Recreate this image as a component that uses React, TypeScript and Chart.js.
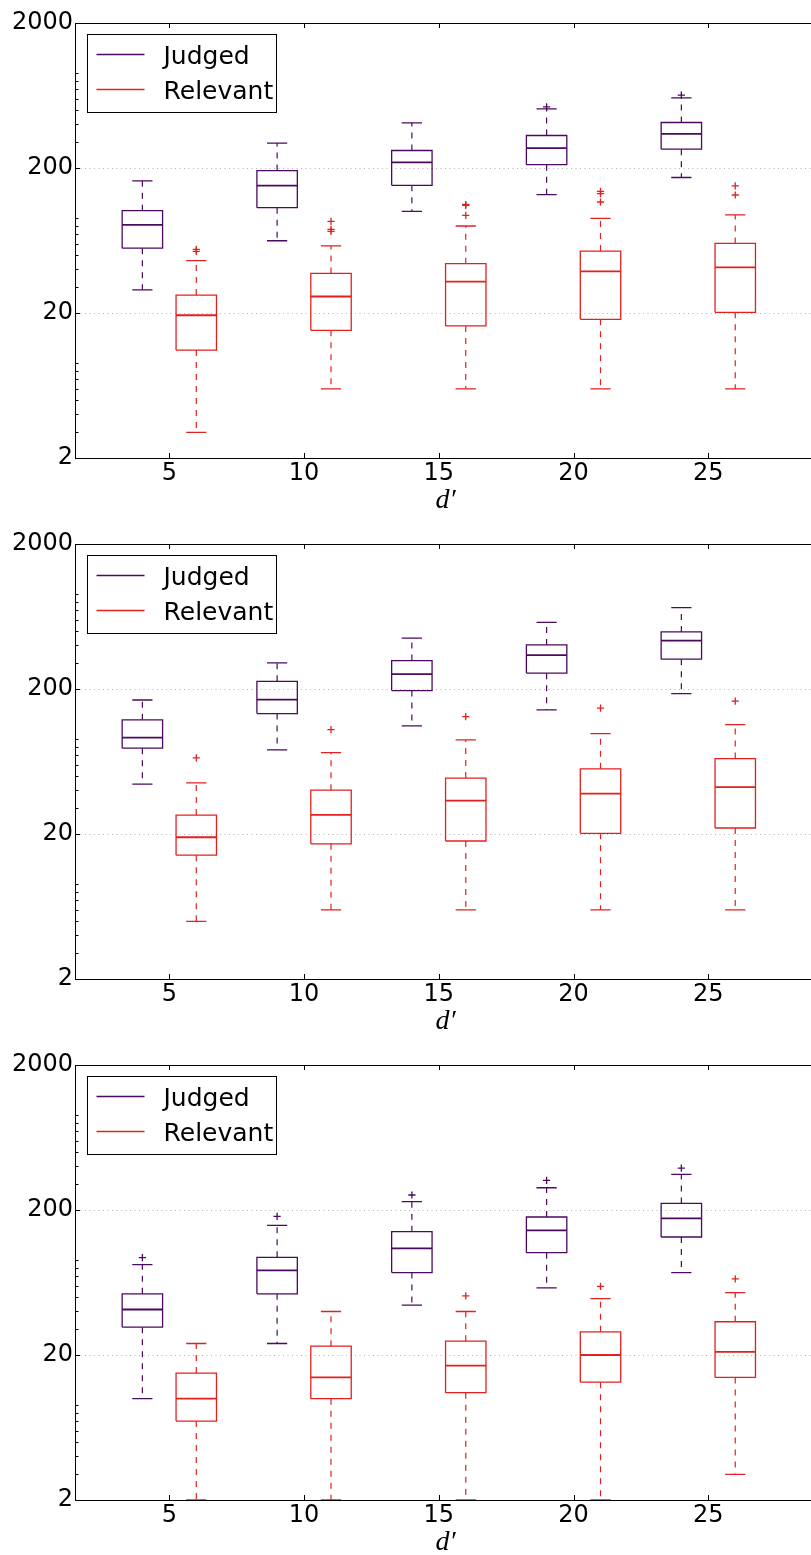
import React, { useEffect, useRef } from "react";
import { Chart, registerables } from "chart.js";

Chart.register(...registerables);

// ---- data -------------------------------------------------------------
const CATEGORIES = [5, 10, 15, 20, 25];
const SERIES_NAMES = ["Judged", "Relevant"];
const X_TICKS = [5, 10, 15, 20, 25];
const Y_TICKS = [2, 20, 200, 2000];
const Y_TICK_LABELS = ["2", "20", "200", "2000"];
const Y_MINOR_TICKS = [3, 4, 5, 6, 7, 8, 9, 30, 40, 50, 60, 70, 80, 90, 300, 400, 500, 600, 700, 800, 900];
const X_TITLE = "d\u2032";

// top panel
const P1_JUDGED_LO = [28.9, 63, 100.5, 131, 172];
const P1_JUDGED_Q1 = [56, 106.5, 152, 211, 269.5];
const P1_JUDGED_MED = [81, 151, 219, 274, 344];
const P1_JUDGED_Q3 = [101.5, 192, 264, 335, 412];
const P1_JUDGED_HI = [163, 297, 410, 512, 610];
const P1_JUDGED_OUT = [[], [], [], [528], [636]];
const P1_RELEVANT_LO = [3, 6, 6, 6, 6];
const P1_RELEVANT_Q1 = [11.1, 15.2, 16.3, 18.1, 20.2];
const P1_RELEVANT_MED = [19.3, 26, 32.9, 38.7, 41.3];
const P1_RELEVANT_Q3 = [26.6, 37.5, 43.8, 53.5, 60.4];
const P1_RELEVANT_HI = [46, 58, 79.6, 90, 95];
const P1_RELEVANT_OUT = [[53.2, 54.9], [73.1, 75.5, 85.8], [94.3, 110.6, 112], [116.6, 133.2, 138.2], [130.3, 150.4]];

// middle panel
const P2_JUDGED_LO = [44.2, 76, 111.4, 143.5, 186];
const P2_JUDGED_Q1 = [78.2, 135.3, 195, 257, 321];
const P2_JUDGED_MED = [92.5, 169, 253, 342, 431];
const P2_JUDGED_Q3 = [122.5, 226, 314, 403, 495];
const P2_JUDGED_HI = [168, 303, 448, 577, 728];
const P2_JUDGED_OUT = [[], [], [], [], []];
const P2_RELEVANT_LO = [5, 6, 6, 6, 6];
const P2_RELEVANT_Q1 = [14.3, 17.1, 17.9, 20.2, 22];
const P2_RELEVANT_MED = [19, 27.1, 34, 38, 42.1];
const P2_RELEVANT_Q3 = [27, 40.1, 48.6, 56.3, 66.3];
const P2_RELEVANT_HI = [45.1, 72.9, 89.2, 98.5, 113.7];
const P2_RELEVANT_OUT = [[67], [105], [129], [147.5], [164.8]];

// bottom panel
const P3_JUDGED_LO = [10, 24, 44.1, 58.1, 74];
const P3_JUDGED_Q1 = [31.1, 52.8, 74, 101.6, 130.3];
const P3_JUDGED_MED = [41.2, 76.7, 108.8, 144.7, 175];
const P3_JUDGED_Q3 = [52.8, 94.3, 141.8, 178.9, 222];
const P3_JUDGED_HI = [84, 156.7, 228.2, 284.8, 351.8];
const P3_JUDGED_OUT = [[93.9], [180.7], [253.8], [319.8], [389.4]];
const P3_RELEVANT_LO = [2, 2, 2, 2, 3];
const P3_RELEVANT_Q1 = [7, 10, 11, 13, 14];
const P3_RELEVANT_MED = [10, 14, 16.9, 20, 21];
const P3_RELEVANT_Q3 = [15, 23, 24.9, 28.9, 33.9];
const P3_RELEVANT_HI = [24, 39.9, 39.9, 49, 53.9];
const P3_RELEVANT_OUT = [[], [], [51.1], [59.5], [67]];

// ---- styling ----------------------------------------------------------
const COLORS = ["#4b0a5e", "#e2211f"];
const SERIES_SHIFT = [-1, 1]; // x shift of each series from its category
const BOX_HALF = 0.75; // half box width, x units
const CAP_HALF = 0.375; // half whisker-cap width, x units
const GRID_COLOR = "#b4b4b4";
const FONT = "DejaVu Sans";
const CANVAS_W = 821;
const CANVAS_H = 521;

type Stats = { lo: number[]; q1: number[]; med: number[]; q3: number[]; hi: number[]; out: number[][] };

const PANELS: Stats[][] = [
  [
    { lo: P1_JUDGED_LO, q1: P1_JUDGED_Q1, med: P1_JUDGED_MED, q3: P1_JUDGED_Q3, hi: P1_JUDGED_HI, out: P1_JUDGED_OUT },
    { lo: P1_RELEVANT_LO, q1: P1_RELEVANT_Q1, med: P1_RELEVANT_MED, q3: P1_RELEVANT_Q3, hi: P1_RELEVANT_HI, out: P1_RELEVANT_OUT },
  ],
  [
    { lo: P2_JUDGED_LO, q1: P2_JUDGED_Q1, med: P2_JUDGED_MED, q3: P2_JUDGED_Q3, hi: P2_JUDGED_HI, out: P2_JUDGED_OUT },
    { lo: P2_RELEVANT_LO, q1: P2_RELEVANT_Q1, med: P2_RELEVANT_MED, q3: P2_RELEVANT_Q3, hi: P2_RELEVANT_HI, out: P2_RELEVANT_OUT },
  ],
  [
    { lo: P3_JUDGED_LO, q1: P3_JUDGED_Q1, med: P3_JUDGED_MED, q3: P3_JUDGED_Q3, hi: P3_JUDGED_HI, out: P3_JUDGED_OUT },
    { lo: P3_RELEVANT_LO, q1: P3_RELEVANT_Q1, med: P3_RELEVANT_MED, q3: P3_RELEVANT_Q3, hi: P3_RELEVANT_HI, out: P3_RELEVANT_OUT },
  ],
];

type Pt = { x: number; y: number | null };

function seriesDatasets(s: Stats, seriesIndex: number): any[] {
  const color = COLORS[seriesIndex];
  const shift = SERIES_SHIFT[seriesIndex];
  const boxes: Pt[] = [];
  const medians: Pt[] = [];
  const whiskers: Pt[] = [];
  const caps: Pt[] = [];
  const fliers: Pt[] = [];
  CATEGORIES.forEach((c, i) => {
    const x = c + shift;
    const l = x - BOX_HALF;
    const r = x + BOX_HALF;
    const gap = { x, y: null };
    boxes.push({ x: l, y: s.q1[i] }, { x: r, y: s.q1[i] }, { x: r, y: s.q3[i] }, { x: l, y: s.q3[i] }, { x: l, y: s.q1[i] }, gap);
    medians.push({ x: l, y: s.med[i] }, { x: r, y: s.med[i] }, gap);
    whiskers.push({ x, y: s.q1[i] }, { x, y: s.lo[i] }, gap, { x, y: s.q3[i] }, { x, y: s.hi[i] }, gap);
    caps.push(
      { x: x - CAP_HALF, y: s.lo[i] }, { x: x + CAP_HALF, y: s.lo[i] }, gap,
      { x: x - CAP_HALF, y: s.hi[i] }, { x: x + CAP_HALF, y: s.hi[i] }, gap
    );
    s.out[i].forEach((v) => fliers.push({ x, y: v }));
  });
  const line = {
    type: "line",
    borderColor: color,
    backgroundColor: color,
    fill: false,
    tension: 0,
    pointRadius: 0,
    pointHoverRadius: 0,
    spanGaps: false,
    borderCapStyle: "butt",
    borderJoinStyle: "miter",
  };
  return [
    { ...line, label: SERIES_NAMES[seriesIndex], data: boxes, borderWidth: 1.3 },
    { ...line, label: SERIES_NAMES[seriesIndex] + " median", data: medians, borderWidth: 1.8 },
    { ...line, label: SERIES_NAMES[seriesIndex] + " whiskers", data: whiskers, borderWidth: 1.2, borderDash: [6, 6] },
    { ...line, label: SERIES_NAMES[seriesIndex] + " caps", data: caps, borderWidth: 1.3 },
    {
      type: "scatter",
      label: SERIES_NAMES[seriesIndex] + " outliers",
      data: fliers,
      pointStyle: "cross",
      pointRadius: 3.6,
      pointHoverRadius: 3.6,
      borderWidth: 1.3,
      borderColor: color,
      backgroundColor: color,
    },
  ];
}

// Inward tick marks on the left, bottom and top spines.
const tickMarks = {
  id: "tickMarks",
  afterDraw(chart: any) {
    const { ctx, chartArea } = chart;
    const { left, top, bottom } = chartArea;
    const ys = chart.scales.y;
    const xs = chart.scales.x;
    const major = 5;
    const minor = 3.5;
    ctx.save();
    ctx.strokeStyle = "#000";
    ctx.lineWidth = 1;
    ctx.beginPath();
    Y_TICKS.forEach((v) => {
      const py = Math.round(ys.getPixelForValue(v)) + 0.5;
      ctx.moveTo(left, py);
      ctx.lineTo(left + major, py);
    });
    Y_MINOR_TICKS.forEach((v) => {
      const py = Math.round(ys.getPixelForValue(v)) + 0.5;
      ctx.moveTo(left, py);
      ctx.lineTo(left + minor, py);
    });
    X_TICKS.forEach((v) => {
      const px = Math.round(xs.getPixelForValue(v)) + 0.5;
      ctx.moveTo(px, bottom);
      ctx.lineTo(px, bottom - major);
      ctx.moveTo(px, top);
      ctx.lineTo(px, top + major);
    });
    ctx.stroke();
    ctx.restore();
  },
};

// Framed legend in the upper-left corner of the plot area.
const boxLegend = {
  id: "boxLegend",
  afterDatasetsDraw(chart: any) {
    const { ctx, chartArea } = chart;
    const bx = Math.round(chartArea.left + 12) + 0.5;
    const by = Math.round(chartArea.top + 11) + 0.5;
    const bw = 189;
    const bh = 78;
    ctx.save();
    ctx.fillStyle = "#fff";
    ctx.fillRect(bx, by, bw, bh);
    ctx.strokeStyle = "#000";
    ctx.lineWidth = 1;
    ctx.strokeRect(bx, by, bw, bh);
    ctx.font = `25px "${FONT}"`;
    ctx.textBaseline = "alphabetic";
    ctx.textAlign = "left";
    SERIES_NAMES.forEach((name, i) => {
      const ly = by + 20 + i * 35;
      ctx.strokeStyle = COLORS[i];
      ctx.lineWidth = 1.3;
      ctx.beginPath();
      ctx.moveTo(bx + 9, ly);
      ctx.lineTo(bx + 57, ly);
      ctx.stroke();
      ctx.fillStyle = "#000";
      ctx.fillText(name, bx + 76, ly + 9.5);
    });
    ctx.restore();
  },
};

function Panel({ series }: { series: Stats[] }) {
  const ref = useRef<HTMLCanvasElement | null>(null);
  useEffect(() => {
    if (!ref.current) return;
    const datasets = series.flatMap((s, i) => seriesDatasets(s, i));
    const setXTicks = (scale: any) => {
      scale.ticks = X_TICKS.map((v) => ({ value: v }));
    };
    const chart = new Chart(ref.current, {
      type: "line",
      data: { datasets } as any,
      plugins: [boxLegend, tickMarks],
      options: {
        animation: false,
        responsive: false,
        maintainAspectRatio: false,
        events: [],
        layout: { padding: 0 },
        plugins: { legend: { display: false }, tooltip: { enabled: false } },
        scales: {
          x: {
            type: "linear",
            position: "bottom",
            min: 1.5,
            max: 29,
            afterBuildTicks: setXTicks,
            afterFit: (scale: any) => {
              scale.height = 63;
            },
            grid: { display: true, drawOnChartArea: false, drawTicks: false },
            border: { display: true, color: "#000", width: 1 },
            ticks: {
              color: "#000",
              padding: 1,
              maxRotation: 0,
              font: { family: FONT, size: 24 },
              callback: (v: any) => String(v),
            },
            title: {
              display: true,
              text: X_TITLE,
              color: "#000",
              font: { family: "Liberation Serif", style: "italic", size: 28 },
              padding: { top: 0, bottom: 4 },
            },
          },
          xTop: {
            type: "linear",
            position: "top",
            min: 1.5,
            max: 29,
            afterBuildTicks: setXTicks,
            afterFit: (scale: any) => {
              scale.height = 23;
            },
            grid: { display: true, drawOnChartArea: false, drawTicks: false },
            border: { display: true, color: "#000", width: 1 },
            ticks: { display: false },
          },
          y: {
            type: "logarithmic",
            position: "left",
            min: 2,
            max: 2000,
            afterBuildTicks: (scale: any) => {
              scale.ticks = Y_TICKS.map((v) => ({ value: v }));
            },
            afterFit: (scale: any) => {
              scale.width = 75;
            },
            grid: {
              drawTicks: false,
              lineWidth: 1,
              color: (c: any) =>
                c.tick && (c.tick.value === 20 || c.tick.value === 200) ? GRID_COLOR : "rgba(0,0,0,0)",
            },
            border: { display: true, color: "#000", width: 1, dash: [1, 3.5] },
            ticks: {
              color: "#000",
              padding: 2,
              font: { family: FONT, size: 24 },
              callback: (v: any) => {
                const k = Y_TICKS.indexOf(Number(v));
                return k >= 0 ? Y_TICK_LABELS[k] : "";
              },
            },
          },
        },
      } as any,
    });
    return () => chart.destroy();
  }, [series]);
  return <canvas ref={ref} width={CANVAS_W} height={CANVAS_H} style={{ display: "block" }} />;
}

export default function App() {
  return (
    <div
      style={{
        position: "absolute",
        left: 0,
        top: 0,
        width: 811,
        height: 1555,
        overflow: "hidden",
        background: "#fff",
      }}
    >
      {PANELS.map((p, i) => (
        <Panel key={i} series={p} />
      ))}
    </div>
  );
}
